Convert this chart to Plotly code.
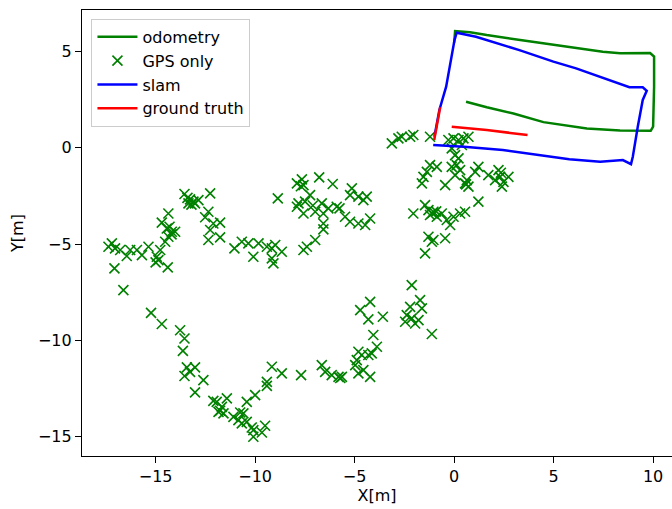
import plotly.graph_objects as go

# odometry path
odom_x = [0.00, 0.05, 0.80, 1.64, 3.32, 4.99, 6.67, 7.47, 8.34, 9.85, 10.05, 10.05, 10.00, 9.88, 8.34, 6.67, 4.49, 2.98, 1.64, 0.60]
odom_y = [5.45, 6.05, 6.00, 5.85, 5.59, 5.33, 5.07, 4.98, 4.90, 4.92, 4.73, 3.17, 1.09, 0.88, 0.90, 1.00, 1.33, 1.78, 2.10, 2.39]

# GPS only measurements
gps_x = [
    -13.55, -13.27, -13.10, -13.02, -13.35, -12.85, -12.26, -12.35, -12.51, -12.10, -11.76, -12.26, -12.35, -11.76, -11.04,
    -14.36, -14.69, -14.44, -14.19, -14.36, -14.02, -14.52, -14.77, -14.94, -14.86, -14.39, -15.36, -15.69, -15.94, -16.28,
    -16.45, -16.78, -17.04, -17.20, -17.37, -17.07, -16.62, -13.40, -13.20, -14.20, -15.00, -14.30,
    -8.86, -7.65, -7.90, -7.57, -6.78, -6.10, -7.82, -7.49, -7.24, -7.57, -7.90, -6.98, -6.65, -6.57, -6.32, -5.90,
    -5.14, -5.23, -4.81, -4.56, -4.39, -5.48, -5.23, -4.81, -4.47, -4.22, -6.57, -6.57, -6.98, -7.40, -7.57,
    -10.67, -10.34, -9.83, -9.41, -9.16, -8.99, -8.66, -10.09, -9.16, -9.08, -5.76, -7.70, -7.10,
    -3.13, -2.80, -2.63, -2.21, -2.05, -1.21, -0.29, -0.03, 0.22, 0.47, 0.72, 0.39, -0.12, 0.05, 0.22,
    -1.21, -1.37, -0.87, -1.54, -1.62, -0.45, -0.12, 0.13, 0.30, 0.05, 0.55, 0.72, 0.64, 1.22, 1.06, 1.72,
    2.23, 2.31, 2.48, 2.40, 2.73, 2.06, 2.35, 0.60,
    -2.05, -1.46, -1.29, -1.04, -0.87, -1.21, -0.62, -0.37, -0.03, 0.30, 0.55, -0.20, 1.22, -1.29, -1.04, -0.45, -1.10, -0.90,
    -1.46, -1.12, -2.13, -4.22, -4.72, -4.31, -3.58, -4.06, -1.71, -1.62, -2.21, -2.38, -2.46, -2.13, -1.96, -1.79, -1.12,
    -3.88, -4.81, -4.64, -4.89, -4.31, -4.14, -4.97, -9.16, -8.66, -7.69, -6.65, -6.48, -6.15, -5.81, -5.64, -4.81, -4.56,
    -4.22, -9.41, -5.72,
    -15.23, -14.69, -13.77, -13.55, -13.63, -13.43, -13.02, -13.27, -13.55, -12.60, -13.02, -11.93, -11.42, -11.67, -11.84,
    -11.59, -11.09, -10.84, -10.59, -10.42, -10.00, -10.42, -10.67, -10.09, -10.09, -12.10, -11.76, -9.41, -9.66, -9.50,
    -10.17, -10.75,
]
gps_y = [
    -2.40, -2.68, -2.80, -2.89, -2.89, -2.72, -2.37, -3.32, -3.61, -3.93, -3.89, -4.27, -4.79, -4.65, -5.22,
    -3.41, -3.89, -4.19, -4.36, -4.62, -4.36, -4.88, -5.31, -5.66, -5.83, -6.21, -5.14, -5.57, -5.31, -5.31,
    -5.62, -5.31, -5.22, -4.96, -5.14, -6.26, -7.39, -2.60, -2.95, -4.50, -5.95, -4.10,
    -2.63, -1.64, -1.85, -1.94, -1.54, -1.88, -2.89, -2.80, -2.46, -3.41, -3.06, -3.32, -2.89, -3.41, -3.15, -3.06,
    -2.11, -2.46, -2.54, -2.72, -2.54, -3.58, -3.84, -3.93, -4.01, -3.67, -3.93, -4.24, -4.79, -5.14, -5.31,
    -4.88, -4.96, -4.96, -5.14, -5.22, -5.05, -5.40, -5.66, -5.74, -6.00, -3.15, -2.00, -3.00,
    0.23, 0.49, 0.57, 0.57, 0.66, 0.57, 0.40, 0.49, 0.40, 0.49, 0.57, 0.14, -0.03, -0.38, -0.55,
    -0.90, -1.25, -0.99, -1.51, -1.85, -1.94, -0.99, -0.90, -1.16, -1.42, -1.85, -2.02, -1.68, -0.99, -1.25, -1.42,
    -1.16, -1.51, -1.77, -2.02, -1.51, -1.68, -1.30, -1.90,
    -3.41, -2.98, -3.24, -3.32, -3.58, -3.49, -3.41, -3.75, -3.58, -3.41, -3.32, -4.01, -2.80, -4.62, -4.79, -4.70, -3.40, -3.30,
    -5.48, -4.88, -7.13, -8.00, -8.43, -8.91, -8.77, -9.72, -7.91, -8.34, -8.26, -8.69, -9.03, -8.86, -9.12, -8.95, -9.67,
    -10.33, -10.59, -10.76, -11.02, -10.76, -10.67, -11.28, -11.37, -11.71, -11.80, -11.28, -11.63, -11.80, -11.89, -11.89, -11.71, -11.54,
    -11.89, -12.15, -11.95,
    -8.57, -9.15, -9.47, -9.90, -10.54, -11.40, -11.40, -11.63, -11.85, -12.06, -12.70, -13.19, -13.01, -13.45, -13.71,
    -13.79, -13.97, -14.14, -13.79, -13.19, -12.84, -14.23, -14.31, -14.66, -15.00, -13.14, -13.65, -12.36, -14.78, -14.43,
    -14.52, -13.74,
]

# slam path
slam_x = [-1.05, 0.50, 2.45, 4.99, 5.79, 7.34, 8.48, 8.89, 8.98, 9.23, 9.48, 9.68, 9.48, 8.81, 6.13, 4.99, 3.28, 1.10, 0.13, 0.02, -0.40, -0.74, -0.99]
slam_y = [0.14, 0.05, -0.12, -0.47, -0.60, -0.73, -0.64, -0.85, -0.47, 1.09, 2.48, 2.96, 3.14, 3.14, 4.12, 4.47, 5.07, 5.76, 5.97, 5.59, 3.17, 1.96, 0.57]

# ground truth (two pieces)
gt_x = [-0.70, -1.00, None, -0.12, 1.64, 3.69]
gt_y = [2.10, 0.40, None, 1.09, 0.92, 0.66]

FONT = "DejaVu Sans"

fig = go.Figure()
fig.add_trace(go.Scatter(x=odom_x, y=odom_y, mode="lines", name="odometry",
                         line=dict(color="#008000", width=2.5)))
fig.add_trace(go.Scatter(x=gps_x, y=gps_y, mode="markers", name="GPS only",
                         marker=dict(symbol="x-thin", size=10, color="#008000",
                                     line=dict(color="#008000", width=1.6))))
fig.add_trace(go.Scatter(x=slam_x, y=slam_y, mode="lines", name="slam",
                         line=dict(color="#0000ff", width=2.5)))
fig.add_trace(go.Scatter(x=gt_x, y=gt_y, mode="lines", name="ground truth",
                         connectgaps=False, line=dict(color="#ff0000", width=2.5)))

axis_common = dict(showgrid=False, zeroline=False, showline=True, linecolor="black",
                   linewidth=1.3, ticks="outside", ticklen=6, tickwidth=1.3,
                   tickcolor="black", tickfont=dict(family=FONT, size=16, color="black"))

fig.update_layout(
    width=672, height=509,
    margin=dict(l=82, r=0, t=10, b=53),
    paper_bgcolor="white", plot_bgcolor="white",
    font=dict(family=FONT, size=16, color="black"),
    showlegend=True,
    legend=dict(x=0.016, y=0.98, xanchor="left", yanchor="top",
                bgcolor="rgba(255,255,255,0.8)", bordercolor="#cccccc", borderwidth=1,
                font=dict(family=FONT, size=16, color="black"), itemwidth=40,
                tracegroupgap=0),
    xaxis=dict(range=[-18.7, 10.95], tickvals=[-15, -10, -5, 0, 5, 10], mirror=True,
               title=dict(text="X[m]", font=dict(family=FONT, size=16), standoff=4),
               **axis_common),
    yaxis=dict(range=[-16.0, 7.15], tickvals=[-15, -10, -5, 0, 5], mirror=False,
               title=dict(text="Y[m]", font=dict(family=FONT, size=16), standoff=10),
               **axis_common),
)

fig.write_html("out.html")
